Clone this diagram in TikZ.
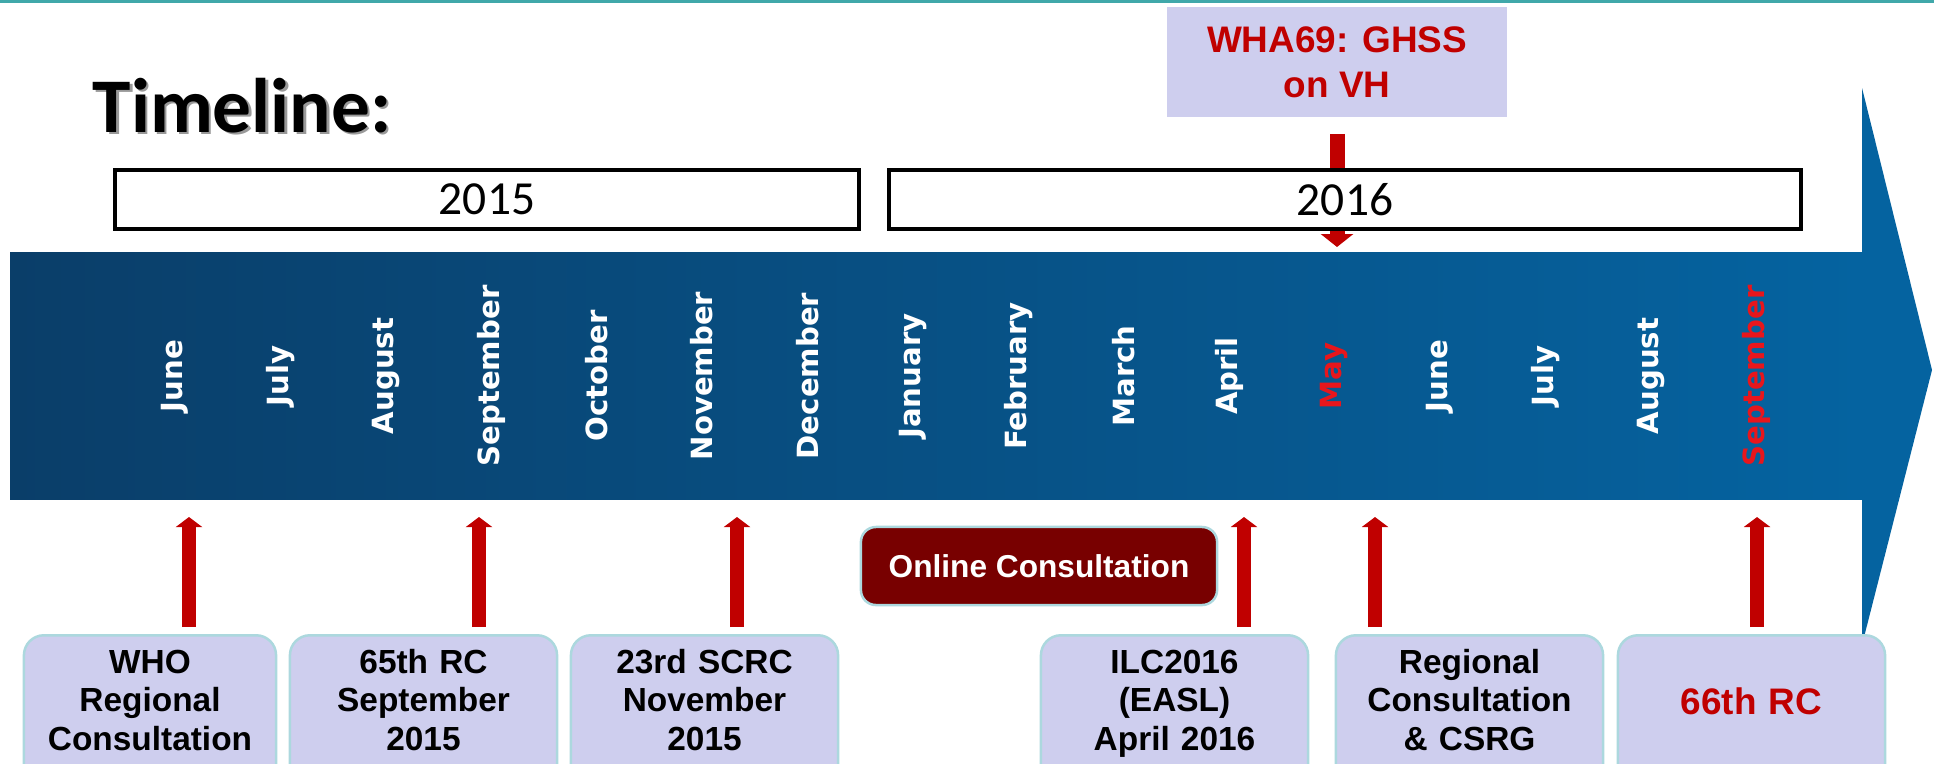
\documentclass[tikz,border=0pt]{standalone}
\usepackage{fontspec}
\setmainfont{Liberation Sans}
\newfontfamily\calibrifont{Carlito}
\newfontfamily\verdanafont{DejaVu Sans}
\usetikzlibrary{arrows.meta}

\definecolor{tealline}{RGB}{64,168,170}
\definecolor{lav}{RGB}{206,206,238}
\definecolor{evborder}{RGB}{172,216,222}
\definecolor{evred}{RGB}{192,0,0}
\definecolor{monthred}{RGB}{232,22,28}
\definecolor{onlinered}{RGB}{120,0,0}
\definecolor{barleft}{RGB}{10,62,105}
\definecolor{barright}{RGB}{5,99,160}

\begin{document}
\begin{tikzpicture}[x=0.01cm, y=-0.01cm,
		yearbox/.style={draw, line width=0.4mm, fill=white, minimum height=5.9mm, inner sep=0pt,
			font=\calibrifont\fontsize{13.5}{15}\selectfont},
		month/.style={rotate=90, inner sep=0pt, font=\verdanafont\bfseries\fontsize{8.3}{10}\selectfont},
		evbox/.style={anchor=north, rounded corners=2mm, draw=evborder, line width=0.25mm, fill=lav,
			text width=26.1mm, inner xsep=0.3mm, inner ysep=0.2mm, align=center,
			text height=3.6mm, text depth=12mm, font=\bfseries\fontsize{9.5}{11}\selectfont},
		evup/.style={draw=evred, line width=1.35mm, -{Triangle[width=2.6mm,length=1mm]},
			shorten <=0.7mm, shorten >=1.7mm}]
	\useasboundingbox (0,0) rectangle (1934,763);
	\clip (0,0) rectangle (1934,763);

	% top rule
	\draw [tealline, line width=0.3mm] (0,1) -- (1934,1);

	% the big arrow
	\shade [left color=barleft, right color=barright] (10,252) rectangle (1863,499);
	\fill [barright] (1862,88) -- (1932,370) -- (1862,645) -- cycle;
	\coordinate (bartop) at (1000,253);
	\coordinate (barbot) at (1000,500);

	% WHA box and its arrow
	\node [fill=lav, minimum width=34mm, minimum height=11mm, align=center, text=evred,
		font=\bfseries\fontsize{10.5}{12.8}\selectfont] (wha) at (1337,62) {WHA69: GHSS\\on VH};
	\draw [draw=evred, line width=1.5mm, -{Triangle[width=3.2mm,length=1.3mm]},
		shorten <=1.6mm, shorten >=0.6mm] (wha.south) -- (wha.south |- bartop);

	% years
	\node [yearbox, minimum width=74.4mm] (y2015) at (487,199.5) {2015};
	\node [yearbox, minimum width=91.2mm] (y2016) at (1345,199.5) {2016};

	% title
	\node [anchor=base west, inner sep=0pt, text=black!40,
		font=\calibrifont\bfseries\fontsize{22}{26}\selectfont] (titleshadow) at (94.5,134.5) {Timeline:};
	\node [anchor=base west, inner sep=0pt,
		font=\calibrifont\bfseries\fontsize{22}{26}\selectfont] (title) at (92,132) {Timeline:};

	% months
	\foreach \m/\c [count=\i from 0] in {June/white, July/white, August/white, September/white,
		October/white, November/white, December/white, January/white, February/white, March/white,
		April/white, May/monthred, June/white, July/white, August/white, September/monthred}
		\node [month, text=\c] (m\i) at (175+105.4*\i,376) {\m};

	% events
	\node [evbox, text width=24.6mm] (who) at (150,634) {WHO\\Regional\\Consultation};
	\node [evbox] (rcsf) at (423.5,634) {65th RC\\September\\2015};
	\node [evbox] (scrc) at (704.5,634) {23rd SCRC\\November\\2015};
	\node [evbox] (ilc) at (1174.5,634) {ILC2016\\(EASL)\\April 2016};
	\node [evbox] (regc) at (1469.5,634) {Regional\\Consultation\\\& CSRG};
	\node [evbox, text height=7.7mm, text=evred, font=\bfseries\fontsize{10.5}{12.8}\selectfont]
		(rcsx) at (1751.5,634) {66th RC};

	\node [rounded corners=1.5mm, draw=evborder, line width=0.25mm, fill=onlinered, text=white,
		minimum width=35.6mm, minimum height=7.8mm, font=\bfseries\fontsize{9}{10}\selectfont]
		(online) at (1039,566) {Online Consultation};

	\foreach \b/\x in {who/189, rcsf/479, scrc/737, ilc/1244, regc/1375, rcsx/1757} {
		\coordinate (tip\b) at (\x,500);
		\draw [evup] (tip\b |- \b.north) -- (tip\b);
	}
\end{tikzpicture}
\end{document}
